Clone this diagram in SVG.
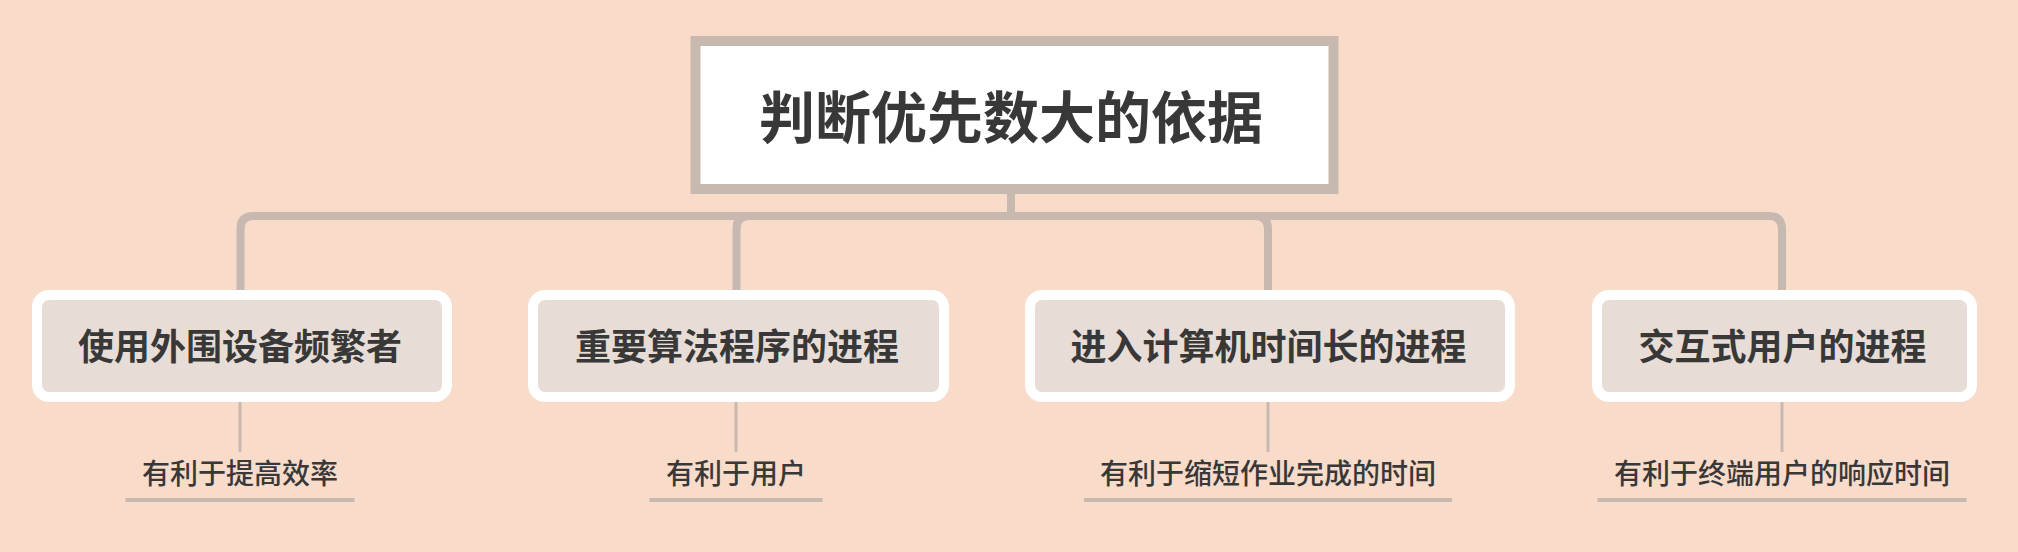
<svg xmlns="http://www.w3.org/2000/svg" width="2018" height="552" viewBox="0 0 2018 552">
<style>
.bg{fill:#f9dbca}
.conn{fill:none;stroke:#c7b9b0;stroke-width:8}
.thin{fill:none;stroke:#c7b9b0;stroke-width:3}
.under{fill:none;stroke:#c7b9b0;stroke-width:4}
.root{fill:#ffffff;stroke:#c7b9b0;stroke-width:10}
.node{fill:#e7ddd6;stroke:#ffffff;stroke-width:10}
text{font-family:"Noto Sans CJK SC","Noto Sans",sans-serif;fill:#383838;text-anchor:middle;dominant-baseline:central}
.t0{font-size:56px;font-weight:bold}
.t1{font-size:36px;font-weight:bold}
.t2{font-size:28px;font-weight:500}
</style>
<rect class="bg" x="0" y="0" width="2018" height="552"/>
<g id="connectors">
<path class="conn" d="M1011 190 V216 H253.5 Q240.5 216 240.5 229 V292"/>
<path class="conn" d="M1011 216 H749.5 Q736.5 216 736.5 229 V292"/>
<path class="conn" d="M1011 216 H1255 Q1268 216 1268 229 V292"/>
<path class="conn" d="M1011 216 H1769 Q1782 216 1782 229 V292"/>
<path class="thin" d="M240 402 V452"/>
<path class="thin" d="M736 402 V452"/>
<path class="thin" d="M1268 402 V452"/>
<path class="thin" d="M1782 402 V452"/>
</g>
<g id="root">
<rect class="root" x="695.5" y="41" width="638" height="148"/>
<text class="t0" x="1011" y="113">判断优先数大的依据</text>
</g>
<g id="n1">
<rect class="node" x="37" y="295" width="410" height="102" rx="12"/>
<text class="t1" x="240" y="344">使用外围设备频繁者</text>
</g>
<g id="n2">
<rect class="node" x="533" y="295" width="411" height="102" rx="12"/>
<text class="t1" x="737" y="344">重要算法程序的进程</text>
</g>
<g id="n3">
<rect class="node" x="1030" y="295" width="480" height="102" rx="12"/>
<text class="t1" x="1268.5" y="344">进入计算机时间长的进程</text>
</g>
<g id="n4">
<rect class="node" x="1597" y="295" width="375" height="102" rx="12"/>
<text class="t1" x="1782.5" y="344">交互式用户的进程</text>
</g>
<g id="l1">
<text class="t2" x="240" y="472">有利于提高效率</text>
<path class="under" d="M125.5 500 H354.5"/>
</g>
<g id="l2">
<text class="t2" x="736" y="472">有利于用户</text>
<path class="under" d="M649.5 500 H822.5"/>
</g>
<g id="l3">
<text class="t2" x="1268" y="472">有利于缩短作业完成的时间</text>
<path class="under" d="M1084 500 H1452"/>
</g>
<g id="l4">
<text class="t2" x="1782" y="472">有利于终端用户的响应时间</text>
<path class="under" d="M1597.5 500 H1966.5"/>
</g>
</svg>
